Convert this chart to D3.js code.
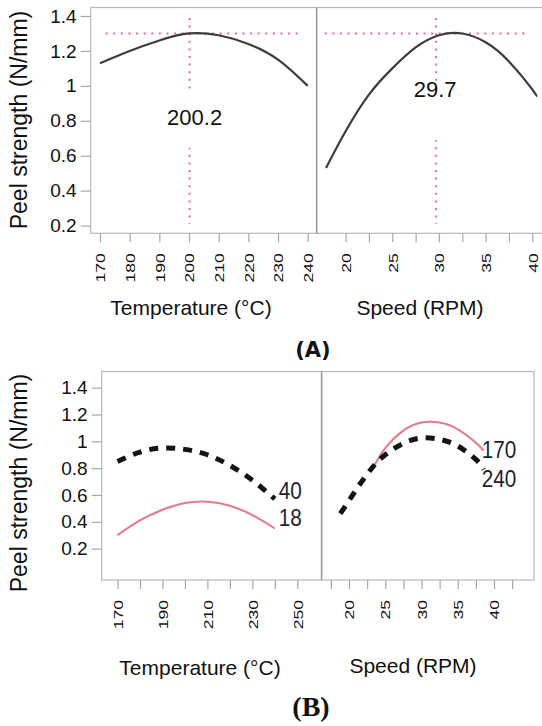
<!DOCTYPE html>
<head>
  <meta charset="utf-8">
  <script src="https://d3js.org/d3.v7.min.js"></script>
  <style>
    body { margin:0; background:#fff; }
    text { font-family: "Liberation Sans", Arial, sans-serif; fill:#111; }
    .frame { fill:none; stroke:#b8b8b8; stroke-width:1.2px; }
    .divider { stroke:#9a9a9a; stroke-width:1.6px; }
    .axis path { display:none; }
    .axis line { stroke:#a8a8a8; stroke-width:1.2px; }
    .curve { fill:none; stroke:#3c3c3c; stroke-width:2.2px; }
    .red { fill:none; stroke:#e5788a; stroke-width:2px; }
    .dash { fill:none; stroke:#141414; stroke-width:5px; stroke-dasharray:9,8; }
    .dots { stroke:#e0707e; stroke-width:2px; stroke-dasharray:2,5.6; }
  </style>
</head>
<body>
<script>
// ---- data ----
var peelTicks = [0.2, 0.4, 0.6, 0.8, 1, 1.2, 1.4];

// panel A
var tempTicksA = [170, 180, 190, 200, 210, 220, 230, 240];
var speedTicksA = [20, 22.5, 25, 27.5, 30, 32.5, 35, 37.5, 40];
var speedLabels = [20, 25, 30, 35, 40];
var tempA = [170, 180, 190, 200, 210, 220, 230, 240];
var peelTempA = [1.13, 1.20, 1.26, 1.30, 1.29, 1.24, 1.15, 1.00];
var speedA = [17.9, 20, 22.5, 25, 27.5, 30, 32.5, 35, 37.5, 40, 40.4];
var peelSpeedA = [0.53, 0.74, 0.95, 1.10, 1.22, 1.29, 1.30, 1.25, 1.14, 0.98, 0.94];
var optTemp = 200.2, optSpeed = 29.7, optPeel = 1.3;

// panel B
var tempTicksB = [170, 180, 190, 200, 210, 220, 230, 240, 250];
var tempLabelsB = [170, 190, 210, 230, 250];
var speedTicksB = [17.5, 20, 22.5, 25, 27.5, 30, 32.5, 35, 37.5, 40, 42.5];
var tempB = [170, 180, 190, 200, 210, 220, 230, 240];
var peelSpeed40 = [0.85, 0.92, 0.95, 0.94, 0.90, 0.82, 0.71, 0.57];
var peelSpeed18 = [0.30, 0.41, 0.49, 0.54, 0.55, 0.52, 0.45, 0.35];
var speed170 = [23.5, 25, 27.5, 30, 32.5, 35, 37.5, 38.6];
var peelTemp170 = [0.82, 0.95, 1.08, 1.14, 1.14, 1.09, 0.99, 0.93];
var speed240 = [18.8, 21, 23, 25, 27.5, 30, 32.5, 35, 37.5, 38.6];
var peelTemp240 = [0.46, 0.64, 0.79, 0.90, 0.985, 1.025, 1.015, 0.965, 0.865, 0.79];

var svg = d3.select("body").append("svg")
  .attr("width", 542).attr("height", 726);

function line(x, y) {
  return d3.line().curve(d3.curveNatural)
    .x(function(d) { return x(d[0]); })
    .y(function(d) { return y(d[1]); });
}
function pairs(a, b) { return a.map(function(v, i) { return [v, b[i]]; }); }

function yAxis(y, left) {
  var g = svg.append("g").attr("class", "axis")
    .attr("transform", "translate(" + left + ",0)")
    .call(d3.axisLeft(y).tickValues(peelTicks).tickSize(10).tickPadding(4)
      .tickFormat(function(d) { return String(d); }));
  g.selectAll("text").style("font-size", "19px");
}

function xAxis(x, bottom, ticks, labels) {
  var g = svg.append("g").attr("class", "axis")
    .attr("transform", "translate(0," + bottom + ")")
    .call(d3.axisBottom(x).tickValues(ticks).tickSize(9)
      .tickFormat(function(d) { return labels.indexOf(d) >= 0 ? String(d) : ""; }));
  g.selectAll("text")
    .attr("transform", "rotate(-90) scale(1.3,1)")
    .attr("text-anchor", "end")
    .attr("x", -20 / 1.3).attr("y", 0).attr("dy", "0.35em")
    .style("font-size", "13.5px");
}

function frame(x0, y0, x1, y1, xd) {
  svg.append("rect").attr("class", "frame")
    .attr("x", x0).attr("y", y0).attr("width", x1 - x0).attr("height", y1 - y0);
  svg.append("line").attr("class", "divider")
    .attr("x1", xd).attr("x2", xd).attr("y1", y0).attr("y2", y1);
}

function title(txt, x, y, size) {
  svg.append("text").attr("x", x).attr("y", y)
    .attr("text-anchor", "middle").style("font-size", size + "px").text(txt);
}
function yTitle(cy) {
  svg.append("text").attr("transform", "translate(27," + cy + ") rotate(-90)")
    .attr("text-anchor", "middle").style("font-size", "23px")
    .text("Peel strength (N/mm)");
}

// ================= panel A =================
var yA = d3.scaleLinear().domain([0.2, 1.4]).range([225.6, 16]);
var xTA = d3.scaleLinear().domain([170, 240]).range([100, 307.7]);
var xSA = d3.scaleLinear().domain([20, 40]).range([345.6, 532.3]);
var topA = 7.5, botA = 233.3, leftA = 90.7, divA = 316.7, rightA = 544;

frame(leftA, topA, rightA, botA, divA);

// optimum reference lines
svg.append("line").attr("class", "dots")
  .attr("x1", leftA + 15).attr("x2", divA - 16)
  .attr("y1", yA(optPeel)).attr("y2", yA(optPeel));
svg.append("line").attr("class", "dots")
  .attr("x1", divA + 8).attr("x2", 530)
  .attr("y1", yA(optPeel)).attr("y2", yA(optPeel));
svg.append("line").attr("class", "dots")
  .attr("x1", xTA(optTemp)).attr("x2", xTA(optTemp)).attr("y1", 18).attr("y2", 224);
svg.append("line").attr("class", "dots")
  .attr("x1", xSA(optSpeed)).attr("x2", xSA(optSpeed)).attr("y1", 18).attr("y2", 224);
svg.append("rect").attr("x", xTA(optTemp) - 28).attr("y", 94).attr("width", 60).attr("height", 54).attr("fill", "#fff");
svg.append("rect").attr("x", xSA(optSpeed) - 24).attr("y", 91).attr("width", 50).attr("height", 49).attr("fill", "#fff");
svg.append("text").attr("x", xTA(optTemp) + 5).attr("y", 125).attr("text-anchor", "middle")
  .style("font-size", "22px").text(String(optTemp));
svg.append("text").attr("x", xSA(optSpeed) - 1).attr("y", 97).attr("text-anchor", "middle")
  .style("font-size", "22px").text(String(optSpeed));

svg.append("path").attr("class", "curve").attr("d", line(xTA, yA)(pairs(tempA, peelTempA)));
svg.append("path").attr("class", "curve").attr("d", line(xSA, yA)(pairs(speedA, peelSpeedA)));

yAxis(yA, leftA);
xAxis(xTA, botA, tempTicksA, tempTicksA);
xAxis(xSA, botA, speedTicksA, speedLabels);

yTitle(120);
title("Temperature (°C)", 191, 315, 21);
title("Speed (RPM)", 420, 315, 21);
svg.append("text").attr("x", 313).attr("y", 357).attr("text-anchor", "middle")
  .style("font-family", "'DejaVu Sans', sans-serif").style("font-weight", "bold")
  .style("font-size", "21px").text("(A)");

// ================= panel B =================
var yB = d3.scaleLinear().domain([0.2, 1.4]).range([548.6, 387.7]);
var xTB = d3.scaleLinear().domain([170, 250]).range([117.5, 297.3]);
var xSB = d3.scaleLinear().domain([20, 40]).range([349, 494]);
var topB = 371.5, botB = 580, leftB = 101.7, divB = 321.6, rightB = 534;

frame(leftB, topB, rightB, botB, divB);

svg.append("path").attr("class", "red").attr("d", line(xTB, yB)(pairs(tempB, peelSpeed18)));
svg.append("path").attr("class", "dash").attr("d", line(xTB, yB)(pairs(tempB, peelSpeed40)));
svg.append("path").attr("class", "red").attr("d", line(xSB, yB)(pairs(speed170, peelTemp170)));
svg.append("path").attr("class", "dash").attr("d", line(xSB, yB)(pairs(speed240, peelTemp240)));

function endLabel(txt, x, y) {
  svg.append("text").attr("transform", "translate(" + x + "," + y + ") scale(0.9,1)")
    .style("font-size", "23px").style("fill", "#1c1f33").text(txt);
}
endLabel("40", xTB(240) + 4, yB(0.57));
endLabel("18", xTB(240) + 4, yB(0.37));
endLabel("170", xSB(38.3), yB(0.875));
endLabel("240", xSB(38.3), yB(0.66));

yAxis(yB, leftB);
xAxis(xTB, botB, tempTicksB, tempLabelsB);
xAxis(xSB, botB, speedTicksB, speedLabels);

yTitle(483);
title("Temperature (°C)", 200, 675, 21);
title("Speed (RPM)", 413, 673, 21);
svg.append("text").attr("x", 311).attr("y", 716).attr("text-anchor", "middle")
  .style("font-family", "'Liberation Serif', 'Times New Roman', serif").style("font-weight", "bold")
  .style("font-size", "28px").text("(B)");
</script>
</body>
